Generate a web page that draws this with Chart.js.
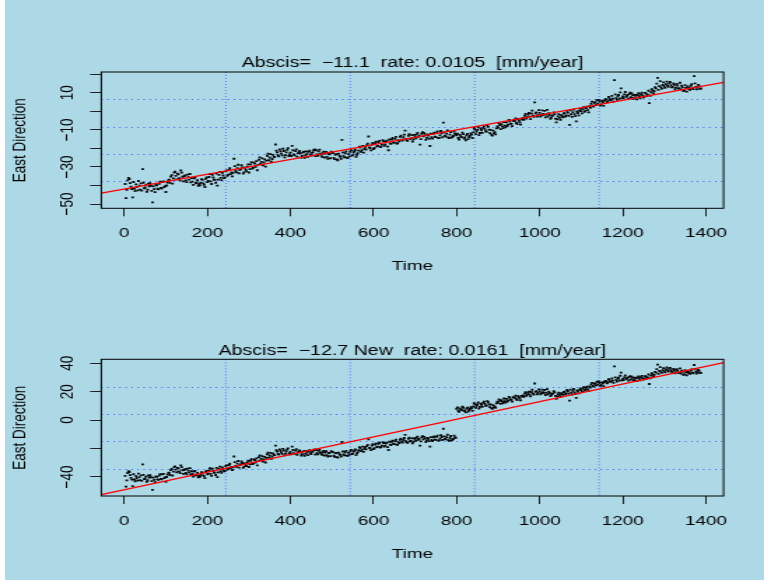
<!DOCTYPE html>
<html>
<head>
<meta charset="utf-8">
<script src="https://cdn.jsdelivr.net/npm/chart.js@4.4.1/dist/chart.umd.min.js"></script>
<style>
  body { margin: 0; background: #add8e6; }
  #page { position: relative; width: 764px; height: 580px; background: linear-gradient(to right, #fff 5px, #add8e6 5px); }
  canvas { position: absolute; left: 0; }
</style>
</head>
<body>
<div id="page">
  <canvas id="eastChart" width="546" height="290" style="top:0;width:764px;height:290px"></canvas>
  <canvas id="newChart" width="546" height="290" style="top:290px;width:764px;height:290px"></canvas>
</div>
<script>
// two interleaved sample sets, each every 4th day
const dayStep = 4;
const earlyStart = 4, earlyMidStart = 2;
const lateStart = 800, lateMidStart = 802;

// east component up to day 798 (identical in both solutions)
const eastEarly = [
  -46.8, -37.2, -36.5, -40.6, -46.4,
  -41.8, -39.4, -42.6, -40.1, -38.9,
  -31.2, -41.5, -39.8, -42.3, -40.4,
  -40.2, -49.1, -42.0, -39.6, -41.7,
  -39.1, -41.3, -38.2, -40.8, -43.5,
  -38.4, -36.9, -35.2, -39.0, -33.1,
  -34.8, -33.6, -36.1, -31.9, -35.3,
  -35.0, -37.2, -34.1, -36.8, -38.3,
  -37.9, -36.2, -38.8, -37.1, -39.2,
  -38.5, -37.0, -39.6, -36.4, -38.1,
  -35.4, -37.8, -34.2, -36.9, -38.6,
  -40.1, -34.3, -35.9, -33.2, -36.0,
  -32.4, -34.8, -31.6, -33.9, -35.1,
  -25.6, -32.2, -30.6, -33.4, -31.1,
  -30.2, -32.9, -31.4, -29.8, -33.0,
  -28.6, -30.9, -27.7, -29.9, -31.8,
  -26.1, -28.3, -25.4, -27.6, -29.8,
  -24.0, -26.4, -23.1, -25.7, -24.6,
  -17.9, -22.1, -24.3, -21.6, -23.8,
  -21.4, -23.6, -20.8, -24.1, -22.3,
  -18.6, -23.2, -21.5, -24.4, -22.0,
  -22.6, -24.0, -21.8, -23.7, -22.9,
  -21.9, -23.3, -22.4, -20.9, -24.2,
  -23.1, -21.6, -22.8, -24.5, -21.7,
  -22.8, -24.6, -23.0, -25.3, -22.4,
  -25.1, -23.4, -26.0, -22.9, -24.5,
  -15.4, -24.2, -22.6, -25.0, -23.1,
  -21.8, -23.9, -22.2, -20.7, -23.4,
  -21.2, -19.6, -20.9, -22.3, -19.1,
  -18.3, -13.6, -19.8, -17.9, -20.4,
  -17.2, -18.9, -16.6, -19.3, -18.0,
  -16.1, -17.9, -15.8, -21.0, -17.3,
  -15.2, -16.8, -14.9, -17.4, -15.6,
  -13.8, -15.3, -14.0, -10.4, -15.7,
  -13.2, -14.9, -12.8, -15.1, -13.6,
  -12.4, -13.8, -18.0, -12.1, -13.5,
  -12.9, -14.3, -13.1, -18.7, -14.0,
  -12.2, -13.7, -11.8, -14.4, -13.0,
  -11.9, -6.1, -13.2, -12.0, -14.1,
  -12.6, -14.2, -13.3, -12.1
];
const eastEarlyMid = [
  -39.2, -42.4, -35.9, -38.7, -41.9,
  -38.1, -43.0, -40.9, -37.6, -42.2,
  -42.8, -38.5, -41.1, -43.4, -39.0,
  -38.7, -42.9, -40.5, -43.6, -39.9,
  -42.1, -38.0, -41.6, -37.8, -40.3,
  -40.0, -37.3, -38.6, -34.4, -36.2,
  -32.6, -36.7, -34.0, -37.2, -33.1,
  -37.8, -34.6, -38.2, -35.5, -33.8,
  -36.0, -39.7, -35.8, -38.4, -40.2,
  -39.9, -36.6, -38.9, -40.8, -35.7,
  -37.6, -33.9, -39.2, -35.7, -37.0,
  -33.6, -36.8, -32.7, -37.1, -34.6,
  -35.8, -31.9, -34.2, -30.7, -33.0,
  -33.2, -29.6, -32.9, -28.8, -31.7,
  -29.1, -33.6, -30.4, -32.3, -28.6,
  -31.2, -27.4, -30.5, -28.2, -26.9,
  -28.9, -24.8, -27.3, -29.1, -25.9,
  -26.6, -22.9, -24.9, -27.2, -23.5,
  -24.6, -21.2, -23.7, -20.6, -22.8,
  -20.2, -24.8, -22.1, -19.9, -23.3,
  -24.1, -21.0, -23.8, -20.5, -22.7,
  -21.3, -24.9, -22.2, -25.1, -21.6,
  -24.6, -21.2, -23.9, -22.0, -20.6,
  -21.0, -24.0, -20.7, -23.5, -22.6,
  -24.9, -21.9, -25.6, -23.2, -21.8,
  -22.5, -25.8, -23.1, -26.4, -24.0,
  -25.6, -22.1, -24.8, -21.6, -25.2,
  -24.3, -20.9, -23.6, -21.4, -24.6,
  -22.6, -19.0, -21.8, -18.7, -20.2,
  -20.6, -17.4, -19.5, -21.1, -17.0,
  -19.8, -16.4, -18.6, -15.9, -19.0,
  -15.5, -18.6, -16.4, -19.0, -15.2,
  -17.6, -14.4, -16.9, -13.8, -17.2,
  -16.2, -13.1, -15.8, -12.6, -14.9,
  -15.9, -12.3, -14.6, -16.3, -12.7,
  -14.6, -11.6, -13.2, -15.0, -11.3,
  -11.8, -15.4, -12.5, -14.8, -12.0,
  -14.7, -11.5, -13.9, -10.9, -14.3,
  -10.6, -14.0, -11.4, -13.6, -10.3,
  -14.5, -11.2, -13.8, -10.9, -12.4
];

// east component from day 800, original solution
const eastLate = [
  -13.0, -14.4, -12.7, -13.9, -12.3,
  -14.1, -12.9, -15.0, -13.2, -12.6,
  -11.4, -9.8, -10.9, -8.6, -11.7,
  -10.2, -8.9, -9.6, -11.0, -8.4,
  -11.8, -12.6, -10.4, -11.3, -9.2,
  -8.8, -7.4, -6.9, -9.1, -7.7,
  -6.0, -7.2, -5.4, -6.8, -4.9,
  -5.1, -6.3, -4.2, -5.8, -3.9,
  -3.6, -2.4, -3.9, -1.8, -2.9,
  -1.2, -2.3, 4.8, -0.6, -1.9,
  -0.8, -2.1, -1.4, 0.2, -1.7,
  -2.8, -1.9, -3.4, -2.2, -1.5,
  -6.0, -2.7, -3.5, -2.1, -3.2,
  -1.0, -2.2, -0.7, -7.3, -1.6,
  -0.4, -1.5, -5.4, -0.9, 0.3,
  0.1, 1.2, -0.3, 1.8, 0.6,
  2.8, 4.1, 3.0, 4.6, 3.4,
  4.0, 5.3, 3.7, 4.9, 5.8,
  6.4, 5.5, 7.0, 5.9, 6.8,
  16.8, 7.1, 8.2, 6.9, 12.4,
  8.0, 9.1, 7.8, 8.9, 9.4,
  7.6, 8.7, 7.3, 8.4, 8.9,
  8.1, 9.2, 8.6, 7.9, 9.5,
  9.0, 4.4, 10.3, 11.2, 10.8,
  12.4, 18.0, 13.6, 12.9, 14.2,
  13.5, 14.7, 13.9, 15.2, 14.1,
  13.1, 14.3, 12.8, 13.9, 12.5,
  11.8, 12.9, 11.2, 12.6, 13.4,
  12.7, 13.8, 12.4, 19.0, 13.2,
  12.8, 13.6, 12.3
];
const eastLateMid = [
  -12.1, -15.2, -13.6, -11.5, -14.7,
  -15.6, -12.2, -13.9, -11.9, -14.4,
  -9.0, -12.3, -10.0, -12.8, -9.4,
  -11.6, -8.1, -10.7, -7.6, -9.9,
  -10.0, -13.1, -11.9, -12.4, -8.1,
  -6.4, -9.6, -8.1, -5.8, -8.6,
  -7.9, -4.6, -6.6, -8.0, -5.2,
  -3.8, -6.9, -5.0, -7.1, -4.5,
  -4.6, -1.4, -3.1, -0.9, -4.2,
  0.4, -3.0, -1.1, -2.9, 0.6,
  -2.9, 0.5, -1.9, -3.3, 0.8,
  -1.0, -4.1, -2.5, -0.6, -3.9,
  -4.3, -1.6, -4.6, -2.6, -1.2,
  -2.8, 0.2, -2.4, 0.5, -3.0,
  0.9, -2.6, -0.1, -2.2, 1.3,
  -1.1, 2.2, 0.4, 2.5, -0.6,
  1.9, 5.2, 2.6, 4.9, 6.0,
  6.2, 3.1, 5.6, 2.9, 6.5,
  4.9, 7.8, 6.1, 8.3, 5.2,
  9.1, 6.2, 8.8, 10.2, 7.0,
  7.1, 10.4, 8.4, 6.9, 10.0,
  9.6, 6.7, 8.9, 6.4, 9.8,
  7.0, 10.1, 7.6, 9.9, 8.2,
  11.1, 8.4, 12.0, 9.7, 13.0,
  14.9, 11.6, 16.3, 12.2, 15.6,
  12.6, 16.0, 13.2, 15.8, 12.9,
  15.1, 11.9, 14.8, 12.2, 15.4,
  13.8, 10.9, 14.1, 10.6, 12.2,
  11.6, 14.6, 12.0, 15.1, 11.8,
  14.3, 12.1
];

// east component from day 800, new solution (jump corrected)
const eastLateNew = [
  8.0, 6.6, 8.3, 7.1, 8.7,
  6.9, 8.1, 6.0, 7.8, 8.4,
  9.6, 11.2, 10.1, 12.4, 9.3,
  10.8, 12.1, 11.4, 10.0, 12.6,
  9.2, 8.4, 10.6, 9.7, 11.8,
  12.2, 13.6, 14.1, 11.9, 13.3,
  15.0, 13.8, 15.6, 14.2, 16.1,
  15.9, 14.7, 16.8, 15.2, 17.1,
  17.4, 18.6, 17.1, 19.2, 18.1,
  19.8, 18.7, 25.8, 20.4, 19.1,
  20.2, 18.9, 19.6, 21.2, 19.3,
  18.2, 19.1, 17.6, 18.8, 19.5,
  15.0, 18.3, 17.5, 18.9, 17.8,
  20.0, 18.8, 20.3, 13.7, 19.4,
  20.6, 19.5, 15.6, 20.1, 21.3,
  21.1, 22.2, 20.7, 22.8, 21.6,
  23.8, 25.1, 24.0, 25.6, 24.4,
  25.0, 26.3, 24.7, 25.9, 26.8,
  27.4, 26.5, 28.0, 26.9, 27.8,
  37.8, 28.1, 29.2, 27.9, 33.4,
  29.0, 30.1, 28.8, 29.9, 30.4,
  28.6, 29.7, 28.3, 29.4, 29.9,
  29.1, 30.2, 29.6, 28.9, 30.5,
  30.0, 25.4, 31.3, 32.2, 31.8,
  33.4, 39.0, 34.6, 33.9, 35.2,
  34.5, 35.7, 34.9, 36.2, 35.1,
  34.1, 35.3, 33.8, 34.9, 33.5,
  32.8, 33.9, 32.2, 33.6, 34.4,
  33.7, 34.8, 33.4, 38.8, 34.2,
  33.8, 34.6, 33.3
];
const eastLateNewMid = [
  8.9, 5.8, 7.4, 9.5, 6.3,
  5.4, 8.8, 7.1, 9.1, 6.6,
  12.0, 8.7, 11.0, 8.2, 11.6,
  9.4, 12.9, 10.3, 13.4, 11.1,
  11.0, 7.9, 9.1, 8.6, 12.9,
  14.6, 11.4, 12.9, 15.2, 12.4,
  13.1, 16.4, 14.4, 13.0, 15.8,
  17.2, 14.1, 16.0, 13.9, 16.5,
  16.4, 19.6, 17.9, 20.1, 16.8,
  21.4, 18.0, 19.9, 18.1, 21.6,
  18.1, 21.5, 19.1, 17.7, 21.8,
  20.0, 16.9, 18.5, 20.4, 17.1,
  16.7, 19.4, 16.4, 18.4, 19.8,
  18.2, 21.2, 18.6, 21.5, 18.0,
  21.9, 18.4, 20.9, 18.8, 22.3,
  19.9, 23.2, 21.4, 23.5, 20.4,
  22.9, 26.2, 23.6, 25.9, 27.0,
  27.2, 24.1, 26.6, 23.9, 27.5,
  25.9, 28.8, 27.1, 29.3, 26.2,
  30.1, 27.2, 29.8, 31.2, 28.0,
  28.1, 31.4, 29.4, 27.9, 31.0,
  30.6, 27.7, 29.9, 27.4, 30.8,
  28.0, 31.1, 28.6, 30.9, 29.2,
  32.1, 29.4, 33.0, 30.7, 34.0,
  35.9, 32.6, 37.3, 33.2, 36.6,
  33.6, 37.0, 34.2, 36.8, 33.9,
  36.1, 32.9, 35.8, 33.2, 36.4,
  34.8, 31.9, 35.1, 31.6, 33.2,
  32.6, 35.6, 33.0, 36.1, 32.8,
  35.3, 33.1
];

const xRange = [-55.4, 1442.8];
const xTicks = [0, 200, 400, 600, 800, 1000, 1200, 1400];

const yRangeTop = [-52.3, 21.2];
const yTicksTop = [-50, -40, -30, -20, -10, 0, 10, 20];
const yLabelsTop = [-50, -30, -10, 10];

const yRangeNew = [-53.4, 42.8];
const yTicksNew = [-40, -20, 0, 20, 40];
const yLabelsNew = [-40, 0, 20, 40];

// fitted trend, value at the left and right end of the x range
const fitTop = [-44.1, 15.6];
const fitNew = [-52.4, 40.4];

const titleTop = 'Abscis=  \u221211.1  rate: 0.0105  [mm/year]';
const titleNew = 'Abscis=  \u221212.7 New  rate: 0.0161  [mm/year]';

Chart.defaults.font.family = "'Liberation Sans', Arial, Helvetica, sans-serif";
Chart.defaults.font.size = 13.5;
Chart.defaults.color = '#000';

function toPoints(values, start) {
  return values.map((v, i) => ({ x: start + i * dayStep, y: v }));
}

function fmt(v) {
  return v < 0 ? '\u2212' + Math.abs(v) : String(v);
}

// R style plot frame + grid(5, 5) dotted lines
const frame = {
  id: 'frame',
  beforeDatasetsDraw(chart) {
    const { ctx, chartArea: a } = chart;
    ctx.save();
    ctx.strokeStyle = '#3f5cff';
    ctx.lineWidth = 1;
    ctx.setLineDash([1, 3.3]);
    for (let i = 1; i < 5; i++) {
      const y = Math.round(a.top + a.height * i / 5) + 0.5;
      ctx.beginPath();
      ctx.moveTo(a.left, y);
      ctx.lineTo(a.right, y);
      ctx.stroke();
    }
    ctx.lineWidth = 0.8;
    ctx.setLineDash([1, 2]);
    for (let i = 1; i < 5; i++) {
      const x = a.left + a.width * i / 5;
      ctx.beginPath();
      ctx.moveTo(x, a.top);
      ctx.lineTo(x, a.bottom);
      ctx.stroke();
    }
    ctx.restore();
  },
  afterDraw(chart) {
    const { ctx, chartArea: a } = chart;
    ctx.save();
    ctx.strokeStyle = '#000';
    ctx.lineWidth = 1;
    ctx.strokeRect(a.left, a.top, a.width, a.height);
    ctx.restore();
  }
};

function eastPlot(canvasId, o) {
  return new Chart(document.getElementById(canvasId), {
    type: 'scatter',
    data: {
      datasets: [
        {
          type: 'line',
          data: [{ x: xRange[0], y: o.fit[0] }, { x: xRange[1], y: o.fit[1] }],
          borderColor: '#ff0000',
          borderWidth: 1.3,
          pointRadius: 0,
          fill: false
        },
        {
          data: o.points,
          pointStyle: 'rect',
          pointRadius: 1.3,
          pointBorderWidth: 0,
          pointBackgroundColor: '#000'
        }
      ]
    },
    options: {
      responsive: false,
      animation: false,
      events: [],
      layout: { padding: { top: o.padTop, left: 0, right: 28.9, bottom: 0 } },
      plugins: {
        legend: { display: false },
        tooltip: { enabled: false },
        title: {
          display: true,
          text: o.title,
          fullSize: false,
          color: '#000',
          font: { size: 14, weight: 'normal' },
          padding: { top: 0, bottom: o.titleGap }
        }
      },
      scales: {
        x: {
          type: 'linear',
          min: xRange[0],
          max: xRange[1],
          bounds: 'data',
          afterBuildTicks: s => { s.ticks = xTicks.map(v => ({ value: v })); },
          afterFit: s => { s.height = o.xHeight; },
          ticks: { autoSkip: false, maxRotation: 0, padding: o.xTickPad, callback: v => fmt(v) },
          grid: { drawOnChartArea: false, tickLength: 8, color: '#222' },
          border: { display: false },
          title: { display: true, text: 'Time', padding: { top: 0, bottom: o.xTitlePad } }
        },
        y: {
          type: 'linear',
          min: o.yRange[0],
          max: o.yRange[1],
          bounds: 'data',
          afterBuildTicks: s => { s.ticks = o.yTicks.map(v => ({ value: v })); },
          afterFit: s => { s.width = 72.4; },
          ticks: {
            autoSkip: false,
            minRotation: 90,
            maxRotation: 90,
            crossAlign: 'center',
            padding: 4.75,
            callback: v => (o.yLabels.includes(v) ? fmt(v) : '')
          },
          grid: { drawOnChartArea: false, tickLength: 8, color: '#222' },
          border: { display: false },
          title: { display: true, text: 'East Direction', padding: { top: 6.3, bottom: 0 } }
        }
      }
    },
    plugins: [frame]
  });
}

eastPlot('eastChart', {
  points: toPoints(eastEarly, earlyStart).concat(
    toPoints(eastEarlyMid, earlyMidStart),
    toPoints(eastLate, lateStart),
    toPoints(eastLateMid, lateMidStart)),
  fit: fitTop,
  title: titleTop,
  yRange: yRangeTop,
  yTicks: yTicksTop,
  yLabels: yLabelsTop,
  padTop: 54.9,
  titleGap: 0.3,
  xHeight: 81.7,
  xTickPad: 8.9,
  xTitlePad: 15.9
});

eastPlot('newChart', {
  points: toPoints(eastEarly, earlyStart).concat(
    toPoints(eastEarlyMid, earlyMidStart),
    toPoints(eastLateNew, lateStart),
    toPoints(eastLateNewMid, lateMidStart)),
  fit: fitNew,
  title: titleNew,
  yRange: yRangeNew,
  yTicks: yTicksNew,
  yLabels: yLabelsNew,
  padTop: 52.5,
  titleGap: 0,
  xHeight: 84,
  xTickPad: 9.6,
  xTitlePad: 17.9
});
</script>
</body>
</html>
